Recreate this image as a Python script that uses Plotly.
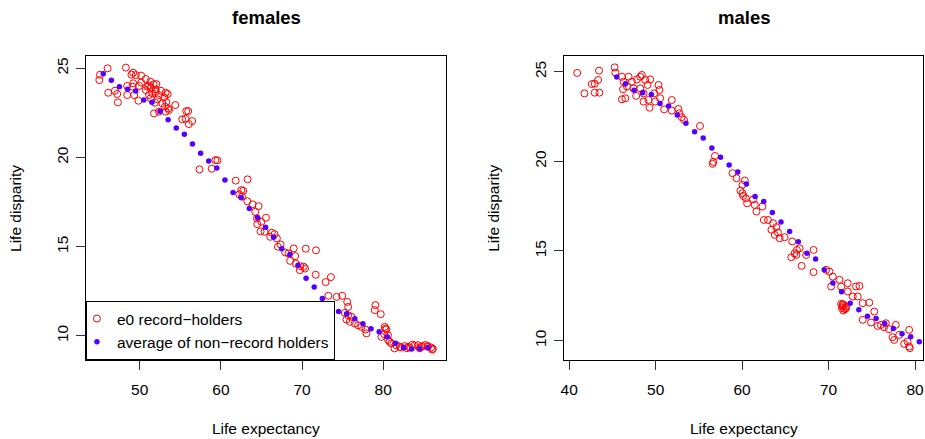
import plotly.graph_objects as go

# ---------------- data ----------------
# average of non-record holders (same series in both panels)
avg_x = [45.5, 46.5, 47.5, 48.5, 49.5, 50.5, 51.5, 52.5, 53.5, 54.5, 55.5, 56.5, 57.5, 58.5,
         59.5, 60.5, 61.5, 62.5, 63.5, 64.5, 65.5, 66.5, 67.5, 68.5, 69.5, 70.5, 71.5, 72.5,
         73.5, 74.5, 75.5, 76.5, 77.5, 78.5, 79.5, 80.5, 81.5, 82.5, 83.5, 84.5, 85.5]
avg_y = [24.70, 24.33, 23.97, 23.82, 23.73, 23.22, 23.09, 22.59, 22.12, 21.65, 21.30, 20.75,
         20.23, 19.80, 19.41, 18.73, 18.04, 17.76, 17.14, 16.62, 16.08, 15.52, 14.88, 14.56,
         13.95, 13.22, 12.73, 12.09, 11.72, 11.36, 11.23, 10.95, 10.67, 10.39, 10.22, 9.94,
         9.58, 9.34, 9.25, 9.27, 9.34]

# female e0 record-holders
fem_x = [45.10, 45.02, 46.04, 48.29, 49.19, 48.98, 49.51, 50.17, 50.74, 51.31, 51.15, 51.72,
         52.05, 48.45, 49.10, 49.92, 50.94, 51.35, 51.97, 52.62, 53.19, 53.44, 46.12, 46.94,
         47.22, 47.31, 48.45, 49.31, 49.84, 51.56, 52.37, 53.03, 53.28, 54.38, 53.52, 52.37,
         51.76, 53.60, 55.73, 55.97, 55.24, 55.64, 56.46, 56.05, 59.32, 59.57, 57.36, 58.87,
         61.82, 63.29, 50.74, 51.15, 52.17, 52.78, 53.11, 51.35, 51.88, 53.19, 51.97, 49.19,
         50.17,
         62.52, 62.76, 62.27, 62.60, 63.26, 63.91, 64.65, 64.24, 64.44, 65.55, 64.97, 64.48,
         64.89, 65.38, 66.28, 66.61, 66.08, 66.90, 67.35, 67.02, 68.98, 70.45, 71.72, 67.92,
         68.33, 69.15, 68.53, 69.23, 69.80, 70.21, 69.72, 70.37, 71.68, 73.56, 72.91,
         73.24, 74.26, 74.95, 75.57, 75.69, 75.28, 75.69, 76.10, 75.48, 75.89, 76.50, 76.91,
         77.32, 77.81, 77.94, 78.96, 79.04, 79.70, 80.19, 80.39, 80.59, 80.80, 79.77,
         80.27, 80.11, 80.60, 81.00, 81.62, 82.03, 82.64, 83.26, 83.87, 84.28, 84.89, 85.50,
         85.91, 86.12, 81.40, 82.23, 83.05, 84.69, 85.51, 86.05, 83.60, 84.50, 85.20, 82.90]
fem_y = [24.64, 24.34, 25.00, 25.04, 24.75, 24.64, 24.62, 24.59, 24.40, 24.25, 24.03, 24.10,
         24.12, 24.01, 23.97, 24.01, 23.97, 23.88, 23.82, 23.74, 23.63, 23.56, 23.63, 23.74,
         23.56, 23.09, 23.50, 23.50, 23.18, 23.60, 23.50, 23.37, 23.11, 22.94, 22.75, 22.57,
         22.47, 22.66, 22.60, 22.60, 22.14, 22.17, 22.04, 21.87, 19.85, 19.84, 19.33, 19.37,
         18.70, 18.77, 23.78, 23.50, 23.26, 23.04, 22.85, 23.32, 23.07, 22.57, 23.69, 24.16,
         24.20,
         18.17, 18.13, 17.93, 17.80, 17.54, 17.37, 17.27, 16.95, 16.58, 16.62, 16.39, 16.26,
         15.85, 15.83, 15.78, 15.70, 15.55, 15.46, 15.12, 14.99, 14.90, 14.88, 14.79, 14.67,
         14.62, 14.47, 14.20, 14.05, 13.90, 13.87, 13.68, 13.77, 13.42, 13.29, 13.01,
         12.24, 12.18, 12.24, 11.90, 11.62, 11.28, 11.15, 11.06, 10.91, 10.78, 10.69, 10.59,
         10.50, 10.35, 10.13, 11.44, 11.72, 11.21, 10.50, 10.35, 10.03, 9.66, 9.94,
         10.40, 10.09, 9.76, 9.57, 9.47, 9.38, 9.42, 9.34, 9.45, 9.47, 9.42, 9.38,
         9.34, 9.27, 9.29, 9.34, 9.38, 9.38, 9.42, 9.22, 9.50, 9.30, 9.48, 9.30]

# male e0 record-holders
mal_x = [40.92, 41.76, 42.61, 42.95, 43.34, 43.45, 42.95, 43.49, 45.26, 45.33, 46.10, 46.29,
         46.87, 46.22, 46.68, 47.25, 47.83, 48.21, 48.40, 48.79, 49.37, 49.06, 47.44, 48.21,
         48.60, 46.49, 46.10, 47.75, 48.60, 49.17, 49.83, 50.33, 50.44, 49.94, 50.52, 49.29,
         51.86, 50.98, 51.86, 52.63, 52.75, 53.01, 53.28, 55.13, 56.86, 56.66, 56.59, 58.89,
         59.35, 60.31, 60.04,
         59.81, 60.04, 60.12, 60.43, 60.58, 61.27, 61.46, 61.66, 62.35, 62.51, 63.00, 63.58,
         63.39, 63.96, 64.15, 63.77, 64.34, 64.92, 65.80, 66.34, 66.65, 66.07, 66.27, 65.69,
         67.41, 68.26, 66.88, 68.26, 69.72, 70.10, 70.49, 71.26, 70.30, 71.45, 72.22, 73.18,
         72.22, 73.57, 72.80, 73.37, 73.95, 74.71, 71.64, 72.03, 71.45, 71.60, 71.75, 71.55,
         71.90, 71.70, 72.00, 73.95, 74.91, 75.29, 75.67, 76.06, 76.63, 76.44, 76.98, 77.78,
         77.40, 77.59, 78.17, 78.75, 79.14, 79.32, 79.32, 79.40]
mal_y = [24.93, 23.79, 24.31, 24.33, 24.54, 25.06, 23.83, 23.83, 25.24, 24.95, 24.72, 24.44,
         24.72, 24.02, 24.17, 24.44, 24.57, 24.72, 24.82, 24.54, 24.57, 24.26, 24.07, 24.07,
         23.79, 23.52, 23.46, 23.65, 23.33, 23.42, 23.79, 24.26, 23.98, 23.33, 23.52, 22.99,
         23.42, 22.90, 22.83, 22.92, 22.68, 22.46, 22.31, 21.97, 20.30, 19.97, 19.86, 19.34,
         19.06, 18.93, 18.69,
         18.36, 18.22, 18.07, 17.94, 17.66, 17.88, 17.57, 17.20, 17.48, 16.73, 16.73, 16.55,
         16.18, 16.33, 16.03, 15.90, 15.71, 15.77, 15.53, 15.06, 15.15, 14.87, 14.78, 14.65,
         14.78, 15.06, 14.17, 13.82, 13.95, 13.85, 13.57, 13.39, 13.02, 13.02, 13.20, 13.02,
         12.74, 13.05, 12.46, 12.46, 12.09, 12.12, 12.03, 11.81, 12.05, 11.92, 12.00, 11.82,
         11.75, 11.68, 11.90, 11.16, 11.01, 11.62, 10.82, 10.88, 10.97, 10.75, 10.64, 10.88,
         10.19, 10.04, 10.32, 9.82, 9.95, 9.67, 10.60, 9.58]

fem_ticks_x = [50, 60, 70, 80]
mal_ticks_x = [40, 50, 60, 70, 80]
ticks_y = [10, 15, 20, 25]

# ---------------- style ----------------
FONT = "Liberation Sans, Arial, Helvetica, sans-serif"
RED = "#FF0000"
BLUE = "#5500FF"
W, H = 925, 439

fig = go.Figure()

for xs, ys, xa, ya, show in [(fem_x, fem_y, "x", "y", True), (mal_x, mal_y, "x2", "y2", False)]:
    fig.add_trace(go.Scatter(
        x=xs, y=ys, xaxis=xa, yaxis=ya, mode="markers", name="e0 record\u2212holders",
        marker=dict(symbol="circle-open", size=7, color=RED, line=dict(width=1, color=RED)),
        showlegend=show, legendrank=1))
    fig.add_trace(go.Scatter(
        x=avg_x, y=avg_y, xaxis=xa, yaxis=ya, mode="markers",
        name="average of non\u2212record holders",
        marker=dict(symbol="circle", size=5.5, color=BLUE, line=dict(width=0)),
        showlegend=show, legendrank=2))

# panel geometry (pixels -> paper)
L_left, L_right = 83.3 / W, 445.0 / W
R_left, R_right = 563.3 / W, 924.3 / W
y_bot, y_top = (H - 360) / H, (H - 56) / H

axis_common = dict(
    showline=True, mirror=True, linecolor="black", linewidth=1,
    ticks="outside", ticklen=9, tickwidth=1, tickcolor="#333333",
    showgrid=False, zeroline=False,
    tickfont=dict(family=FONT, size=15.5, color="black"),
)

fig.update_layout(
    width=W, height=H,
    margin=dict(l=0, r=0, t=0, b=0),
    paper_bgcolor="white", plot_bgcolor="white",
    font=dict(family=FONT, color="black"),
    xaxis=dict(domain=[L_left, L_right], range=[43.37, 87.75], tickvals=fem_ticks_x,
               anchor="y", ticklabelstandoff=6, **axis_common),
    yaxis=dict(domain=[y_bot, y_top], range=[8.64, 25.69], tickvals=ticks_y,
               anchor="x", tickangle=-90, ticklabelstandoff=2, **axis_common),
    xaxis2=dict(domain=[R_left, R_right], range=[39.38, 80.96], tickvals=mal_ticks_x,
                anchor="y2", ticklabelstandoff=6, **axis_common),
    yaxis2=dict(domain=[y_bot, y_top], range=[8.92, 25.875], tickvals=ticks_y,
                anchor="x2", tickangle=-90, ticklabelstandoff=2, **axis_common),
    legend=dict(x=L_left, y=y_bot, xanchor="left", yanchor="bottom",
                bgcolor="white", bordercolor="black", borderwidth=1,
                font=dict(family=FONT, size=15.5, color="black"),
                tracegroupgap=0, itemwidth=30, indentation=-10),
    showlegend=True,
)

ann = []
for cx, title in [((83.3 + 445) / 2 / W, "females"), ((563.3 + 924.3) / 2 / W, "males")]:
    ann.append(dict(x=cx, y=(H - 18) / H, xref="paper", yref="paper", text="<b>%s</b>" % title,
                    showarrow=False, xanchor="center", yanchor="middle",
                    font=dict(family=FONT, size=18.5, color="black")))
    ann.append(dict(x=cx, y=(H - 428) / H, xref="paper", yref="paper", text="Life expectancy",
                    showarrow=False, xanchor="center", yanchor="middle",
                    font=dict(family=FONT, size=15.5, color="black")))
for px in [12, 492]:
    ann.append(dict(x=px / W, y=(y_bot + y_top) / 2, xref="paper", yref="paper",
                    text="Life disparity", textangle=-90, showarrow=False,
                    xanchor="center", yanchor="middle",
                    font=dict(family=FONT, size=15.5, color="black")))
fig.update_layout(annotations=ann)

fig.write_html("out.html", config={"displayModeBar": False},
               post_script="document.body.style.margin='0';")
